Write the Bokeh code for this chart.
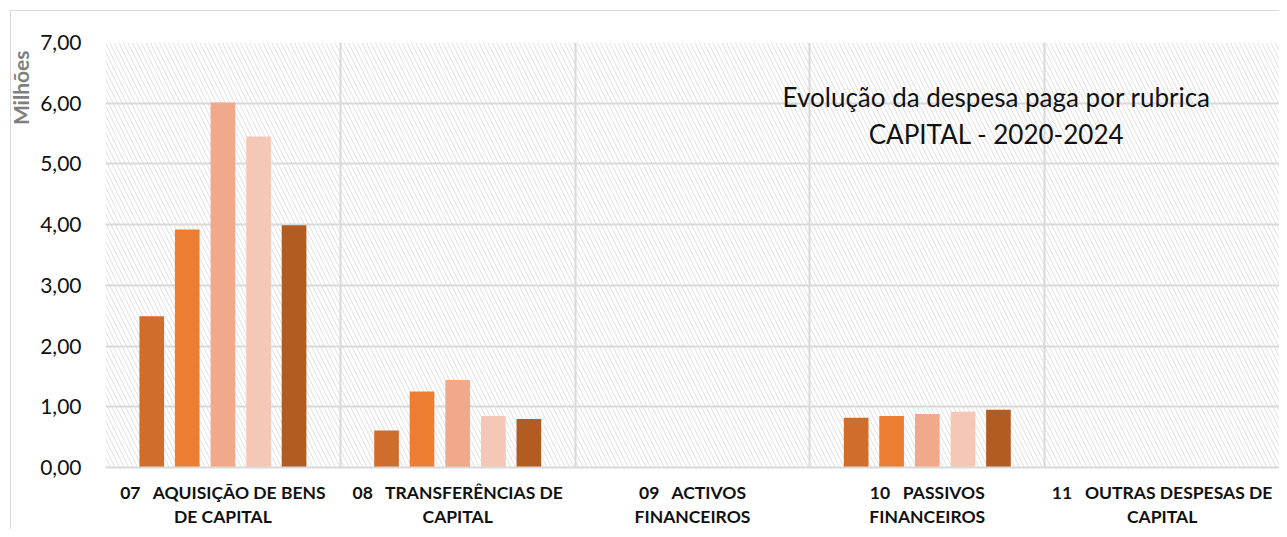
import numpy as np
from bokeh.plotting import figure
from bokeh.models import (ColumnDataSource, Range1d, FixedTicker, BoxAnnotation, Label, Title)
from bokeh.transform import dodge
from bokeh.embed import file_html
from bokeh.resources import INLINE

# ---- data ----
NB = "\u00a0"
categories = [
    "07" + NB * 3 + "AQUISIÇÃO DE BENS\nDE CAPITAL",
    "08" + NB * 3 + "TRANSFERÊNCIAS DE\nCAPITAL",
    "09" + NB * 3 + "ACTIVOS\nFINANCEIROS",
    "10" + NB * 3 + "PASSIVOS\nFINANCEIROS",
    "11" + NB * 3 + "OUTRAS DESPESAS DE\nCAPITAL",
]
years = ["2020", "2021", "2022", "2023", "2024"]
v2020 = [2.49, 0.61, 0.0, 0.82, 0.0]
v2021 = [3.92, 1.25, 0.0, 0.85, 0.0]
v2022 = [6.01, 1.44, 0.0, 0.88, 0.0]
v2023 = [5.45, 0.85, 0.0, 0.92, 0.0]
v2024 = [3.99, 0.80, 0.0, 0.95, 0.0]
y_ticks = [0, 1, 2, 3, 4, 5, 6, 7]
y_labels = ["0,00", "1,00", "2,00", "3,00", "4,00", "5,00", "6,00", "7,00"]
title_text = "Evolução da despesa paga por rubrica\nCAPITAL - 2020-2024"
unit_text = "Milhões"

colors = ["#D06D2B", "#ED7D31", "#F0A98B", "#F4C7B7", "#B35C22"]

n = len(categories)
centers = list(np.arange(n) + 0.5)
src = ColumnDataSource(dict(x=centers, v2020=v2020, v2021=v2021, v2022=v2022,
                            v2023=v2023, v2024=v2024))

p = figure(width=1279, height=529, output_backend="svg", toolbar_location=None,
           x_range=Range1d(0, n), y_range=Range1d(0, 7),
           min_border_left=102, min_border_right=0, min_border_top=42,
           min_border_bottom=58)
p.outline_line_color = None
p.background_fill_color = "white"
p.border_fill_alpha = 0
p.styles = {
    "background": ("linear-gradient(#d9d9d9,#d9d9d9) 10px 10px / 100% 1px no-repeat, "
                   "linear-gradient(#d9d9d9,#d9d9d9) 10px 10px / 1px 100% no-repeat, white"),
}

# hatched plot background
hatch = BoxAnnotation(left=0, right=n, bottom=0, top=7, fill_alpha=0,
                      line_color=None, hatch_pattern="left_diagonal_line",
                      hatch_color="#e6e6e6", hatch_scale=9, hatch_weight=1.2,
                      level="image")
p.add_layout(hatch)

offsets = [-0.303, -0.152, 0.0, 0.152, 0.303]
cols = ["v2020", "v2021", "v2022", "v2023", "v2024"]
for col, off, c, yr in zip(cols, offsets, colors, years):
    p.vbar(x=dodge("x", off), top=col, width=0.105, source=src,
           fill_color=c, line_color=None)

# axes
p.yaxis.ticker = FixedTicker(ticks=y_ticks)
p.yaxis.major_label_overrides = {t: l for t, l in zip(y_ticks, y_labels)}
p.yaxis.axis_line_color = None
p.yaxis.major_tick_line_color = None
p.yaxis.minor_tick_line_color = None
p.yaxis.major_label_text_font = "Lato"
p.yaxis.major_label_text_font_size = "21px"
p.yaxis.major_label_text_color = "#111111"
p.yaxis.major_label_standoff = 18

p.xaxis.ticker = FixedTicker(ticks=centers)
p.xaxis.major_label_overrides = {c: l for c, l in zip(centers, categories)}
p.xaxis.axis_line_color = "#d9d9d9"
p.xaxis.axis_line_width = 2
p.xaxis.major_tick_line_color = None
p.xaxis.minor_tick_line_color = None
p.xaxis.major_label_text_font = "Lato"
p.xaxis.major_label_text_font_style = "bold"
p.xaxis.major_label_text_font_size = "17.5px"
p.xaxis.major_label_text_color = "#111111"
p.xaxis.major_label_standoff = 8
p.xaxis.major_label_text_line_height = 1.15

# grids
p.ygrid.ticker = FixedTicker(ticks=y_ticks)
p.ygrid.grid_line_color = "#d9d9d9"
p.ygrid.grid_line_width = 2
p.xgrid.ticker = FixedTicker(ticks=list(range(n + 1)))
p.xgrid.grid_line_color = "#d9d9d9"
p.xgrid.grid_line_width = 2

# title inside plot
p.add_layout(Label(x=3.795, y=5.80, text=title_text, text_align="center",
                   text_baseline="middle", text_font="Lato",
                   text_font_size="26px", text_color="#111111",
                   text_line_height=1.15))
# unit label (top of the left side)
p.add_layout(Title(text=unit_text, align="right", offset=8,
                   text_font="Lato", text_font_style="bold",
                   text_font_size="21px", text_color="#7f7f7f"), "left")

open("out.html", "w").write(file_html(p, INLINE))
